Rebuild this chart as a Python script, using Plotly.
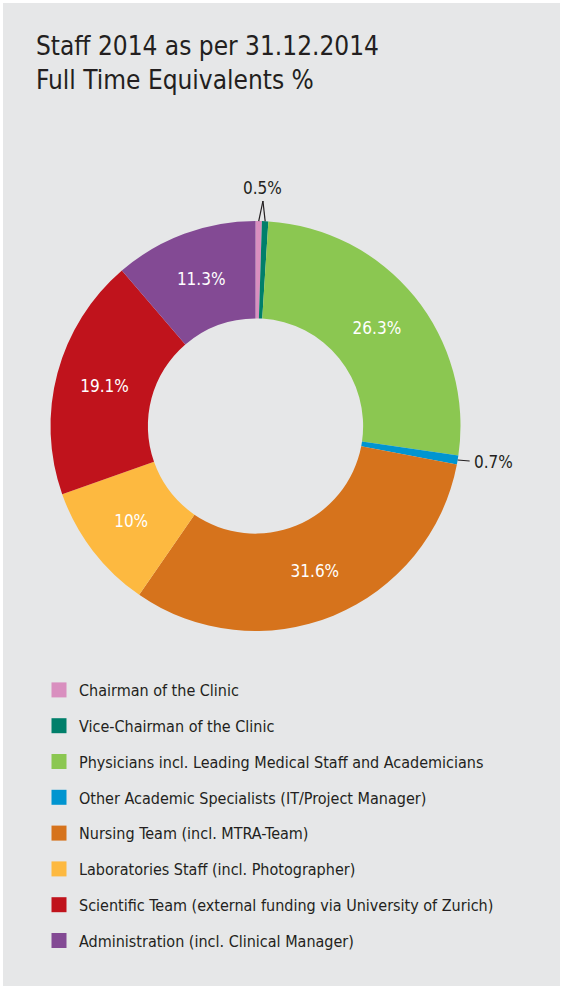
import math
import plotly.graph_objects as go

categories = [
    "Chairman of the Clinic",
    "Vice-Chairman of the Clinic",
    "Physicians incl. Leading Medical Staff and Academicians",
    "Other Academic Specialists (IT/Project Manager)",
    "Nursing Team (incl. MTRA-Team)",
    "Laboratories Staff (incl. Photographer)",
    "Scientific Team (external funding via University of Zurich)",
    "Administration (incl. Clinical Manager)",
]
values = [0.5, 0.5, 26.3, 0.7, 31.6, 10.0, 19.1, 11.3]
colors = ["#d98fbf", "#007f6a", "#8bc751", "#0095d0",
          "#d6731c", "#fdb940", "#c0131c", "#834a94"]

W, H = 563, 992
FONT = "Liberation Sans Narrow, DejaVu Sans Condensed, Roboto Condensed, Arial Narrow, sans-serif"
TXT = "#231f20"

# donut geometry (pixels)
cx, cy, R = 255.5, 426.0, 205.0

def px(x):
    return x / W

def py(y):
    return 1 - y / H

text = [f"{v:g}%" for v in values]
textpos = ["inside" if v >= 5 else "none" for v in values]

fig = go.Figure()
fig.add_trace(go.Pie(
    values=values, labels=categories, text=text,
    texttemplate="%{text}", textposition=textpos,
    insidetextorientation="horizontal",
    textfont=dict(family=FONT, size=17, color="white"),
    marker=dict(colors=colors, line=dict(width=0)),
    sort=False, direction="clockwise", rotation=0, hole=0.525,
    domain=dict(x=[px(cx - R), px(cx + R)], y=[py(cy + R), py(cy - R)]),
    showlegend=False, hoverinfo="label+percent",
))

# legend entries
for c, col in zip(categories, colors):
    fig.add_trace(go.Scatter(
        x=[None], y=[None], mode="markers", name=c, legendgroup=c,
        marker=dict(symbol="square", size=15, color=col),
        showlegend=True,
    ))

total = sum(values)
cum = [0]
for v in values:
    cum.append(cum[-1] + v)

def pt(frac, r):
    a = 2 * math.pi * frac
    return cx + r * math.sin(a), cy - r * math.cos(a)

shapes = [dict(type="rect", xref="paper", yref="paper", x0=px(3), x1=px(560),
               y0=py(986), y1=py(3), fillcolor="#e6e7e8", line=dict(width=0),
               layer="below")]
annotations = []

# chairman + vice chairman joined label
mid0 = (cum[0] + cum[1]) / 2 / total
mid1 = (cum[1] + cum[2]) / 2 / total
apex = ((pt(mid0, R)[0] + pt(mid1, R)[0]) / 2 + 1, cy - R - 20)
for m in (mid0, mid1):
    x0, y0 = pt(m, R)
    shapes.append(dict(type="line", xref="paper", yref="paper",
                       x0=px(x0), y0=py(y0), x1=px(apex[0]), y1=py(apex[1]),
                       line=dict(color=TXT, width=1.2)))
annotations.append(dict(x=px(apex[0]), y=py(apex[1] - 1), xref="paper", yref="paper",
                        text=text[0], showarrow=False, yanchor="bottom",
                        font=dict(family=FONT, size=17, color=TXT)))

# other academic specialists
m3 = (cum[3] + cum[4]) / 2 / total
x0, y0 = pt(m3, R)
shapes.append(dict(type="line", xref="paper", yref="paper",
                   x0=px(x0), y0=py(y0), x1=px(x0 + 12), y1=py(y0 + 1),
                   line=dict(color=TXT, width=1.2)))
annotations.append(dict(x=px(x0 + 14), y=py(y0 + 2), xref="paper", yref="paper",
                        text=text[3], showarrow=False, xanchor="left",
                        font=dict(family=FONT, size=17, color=TXT)))

# title
annotations.append(dict(x=px(34), y=py(29), xref="paper", yref="paper",
                        text="Staff 2014 as per 31.12.2014<br>Full Time Equivalents %",
                        showarrow=False, xanchor="left", yanchor="top", align="left",
                        font=dict(family=FONT, size=26, color=TXT)))

fig.update_layout(
    width=W, height=H,
    margin=dict(l=0, r=0, t=0, b=0),
    paper_bgcolor="white", plot_bgcolor="rgba(0,0,0,0)",
    xaxis=dict(visible=False, domain=[0, 0.01]),
    yaxis=dict(visible=False, domain=[0, 0.01]),
    shapes=shapes, annotations=annotations,
    legend=dict(x=px(39), y=py(673), xanchor="left", yanchor="top",
                bgcolor="rgba(0,0,0,0)", tracegroupgap=12,
                font=dict(family=FONT, size=16, color=TXT),
                itemclick=False, itemdoubleclick=False),
)

fig.write_html("out.html", config={"displayModeBar": False},
               post_script="document.body.style.margin='0px';document.body.style.overflow='hidden';")
